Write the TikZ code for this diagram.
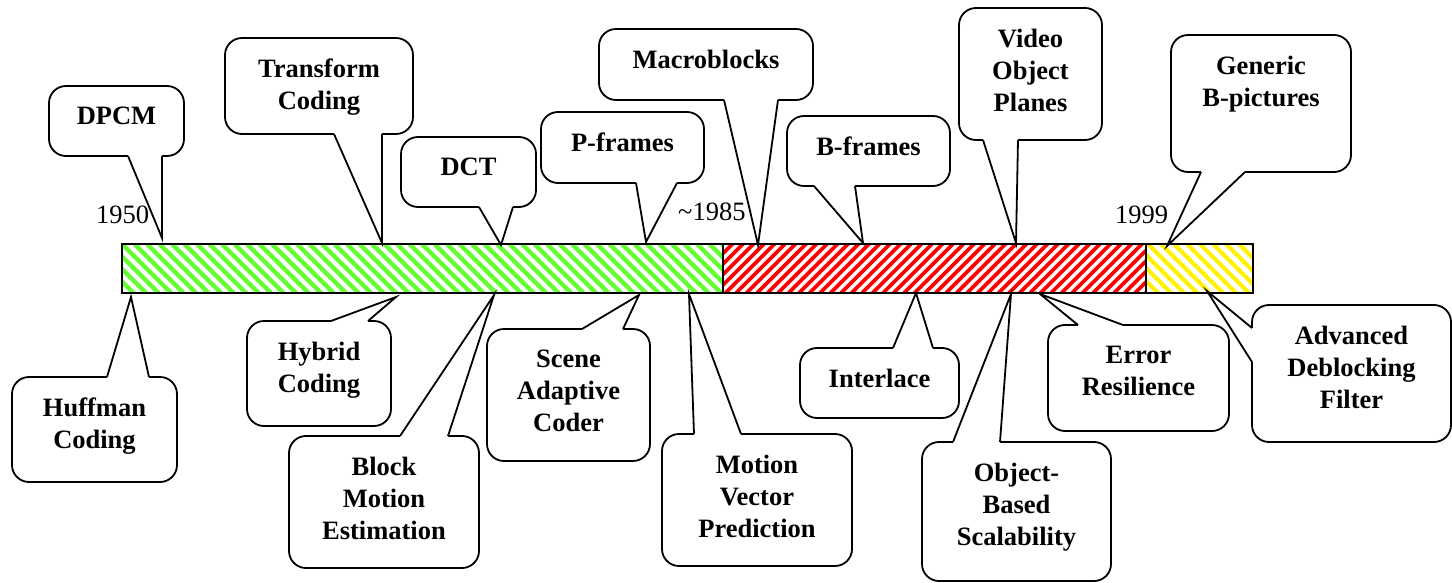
\documentclass[tikz,border=0pt]{standalone}
\usepackage{fontspec}
\setmainfont{Liberation Serif}
\usetikzlibrary{positioning,calc,backgrounds}
\definecolor{eragreen}{RGB}{102,255,51}

\begin{document}
\begin{tikzpicture}[x=1pt,y=-1pt]
\tikzset{era/.style={draw,line width=1.8pt,inner sep=0pt,outer sep=0pt,anchor=north west,minimum height=49pt}}
\tikzset{bubble/.style={draw,line width=1.8pt,rounded corners=17pt,fill=white,inner sep=0pt,outer sep=0pt,anchor=north west}}
\tikzset{tag/.style={font=\bfseries\fontsize{26.5}{32}\selectfont,align=center,inner sep=0pt}}
\tikzset{year/.style={font=\fontsize{26.5}{32}\selectfont,inner sep=0pt,anchor=base west}}
\useasboundingbox (0,0) rectangle (1452,583);

% the time line
\node[era,minimum width=601pt] (early) at (122,244) {};
\node[era,minimum width=423pt] (mpeg) at (early.north east) {};
\node[era,minimum width=107pt] (late) at (mpeg.north east) {};
\begin{scope}[on background layer]
  \begin{scope}
    \clip (early.north west) rectangle (early.south east);
    \foreach \x in {0,12.5,...,660} \draw[eragreen,line width=4.4pt] ($(early.north west)+(\x-50,0)$) -- ++(50,50);
  \end{scope}
  \begin{scope}
    \clip (mpeg.north west) rectangle (mpeg.south east);
    \foreach \x in {0,10.5,...,480} \draw[red,line width=3.7pt] ($(mpeg.south west)+(\x-50,0)$) -- ++(50,-50);
  \end{scope}
  \begin{scope}
    \clip (late.north west) rectangle (late.south east);
    \foreach \x in {0,13,...,170} \draw[yellow,line width=4pt] ($(late.north west)+(\x-50,0)$) -- ++(50,50);
  \end{scope}
\end{scope}

\node[year] (y1950) at (96,223) {1950};
\node[year] (y1985) at (678,221) {\textasciitilde1985};
\node[year] (y1999) at (1115,223) {1999};

% where the callouts point
\foreach \n/\p in {dpcm/{162,238},trans/{382,243},dct/{501,245},pfr/{646,242},macro/{758,245},
  bfr/{863,243},vop/{1016,243},gen/{1167,246},huff/{131,297},hyb/{396,297},bme/{494,295},
  sac/{639,295},mvp/{689,294},int/{916,293},obs/{1011,294},err/{1040,294},adf/{1207,291}}
  \coordinate (t-\n) at (\p);

% callout boxes
\foreach \n/\p/\w/\h/\t in {
  dpcm/{49,86}/135/70/DPCM,
  trans/{225,38}/188/96/{Transform\\Coding},
  dct/{401,137}/135/70/DCT,
  pfr/{541,112}/163/71/P-frames,
  macro/{599,29}/214/71/Macroblocks,
  bfr/{787,116}/163/70/B-frames,
  vop/{959,8}/143/132/{Video\\Object\\Planes},
  gen/{1171,35}/180/137/{Generic\\B-pictures},
  huff/{12,377}/165/105/{Huffman\\Coding},
  hyb/{247,321}/144/105/{Hybrid\\Coding},
  bme/{289,436}/190/132/{Block\\Motion\\Estimation},
  sac/{487,329}/163/132/{Scene\\Adaptive\\Coder},
  mvp/{662,434}/190/132/{Motion\\Vector\\Prediction},
  int/{800,348}/159/70/Interlace,
  obs/{922,442}/189/139/{Object-\\Based\\Scalability},
  err/{1048,325}/181/106/{Error\\Resilience},
  adf/{1252,305}/199/137/{Advanced\\Deblocking\\Filter}}
{
  \node[bubble,minimum width=\w pt,minimum height=\h pt] (\n) at (\p) {};
  \node[tag,below=21pt of \n.north] (\n-t) {\t};
}

% pointers from the boxes to the time line
\foreach \n/\s/\u/\v in {
  dpcm/south west/{79,0}/{113,0},
  trans/south west/{109,0}/{157,0},
  dct/south west/{78,0}/{112,0},
  pfr/south west/{95,0}/{136,0},
  macro/south west/{125,0}/{179,0},
  bfr/south west/{27,0}/{68,0},
  vop/south west/{24,0}/{59,0},
  gen/south west/{30,0}/{74,0},
  huff/north west/{95,0}/{137,0},
  hyb/north west/{84,0}/{121,0},
  bme/north west/{111,0}/{159,0},
  sac/north west/{95,0}/{136,0},
  mvp/north west/{32,0}/{79,0},
  int/north west/{93,0}/{133,0},
  obs/north west/{31,0}/{78,0},
  err/north west/{30,0}/{75,0},
  adf/north west/{0,23}/{0,57}}
{
  \fill[white] ($(\n.\s)+(\u)$) -- (t-\n) -- ($(\n.\s)+(\v)$) -- cycle;
  \draw[white,line width=2.6pt] ($(\n.\s)+(\u)$) -- ($(\n.\s)+(\v)$);
  \draw[line width=1.8pt] ($(\n.\s)+(\u)$) -- (t-\n) -- ($(\n.\s)+(\v)$);
}
\end{tikzpicture}
\end{document}
